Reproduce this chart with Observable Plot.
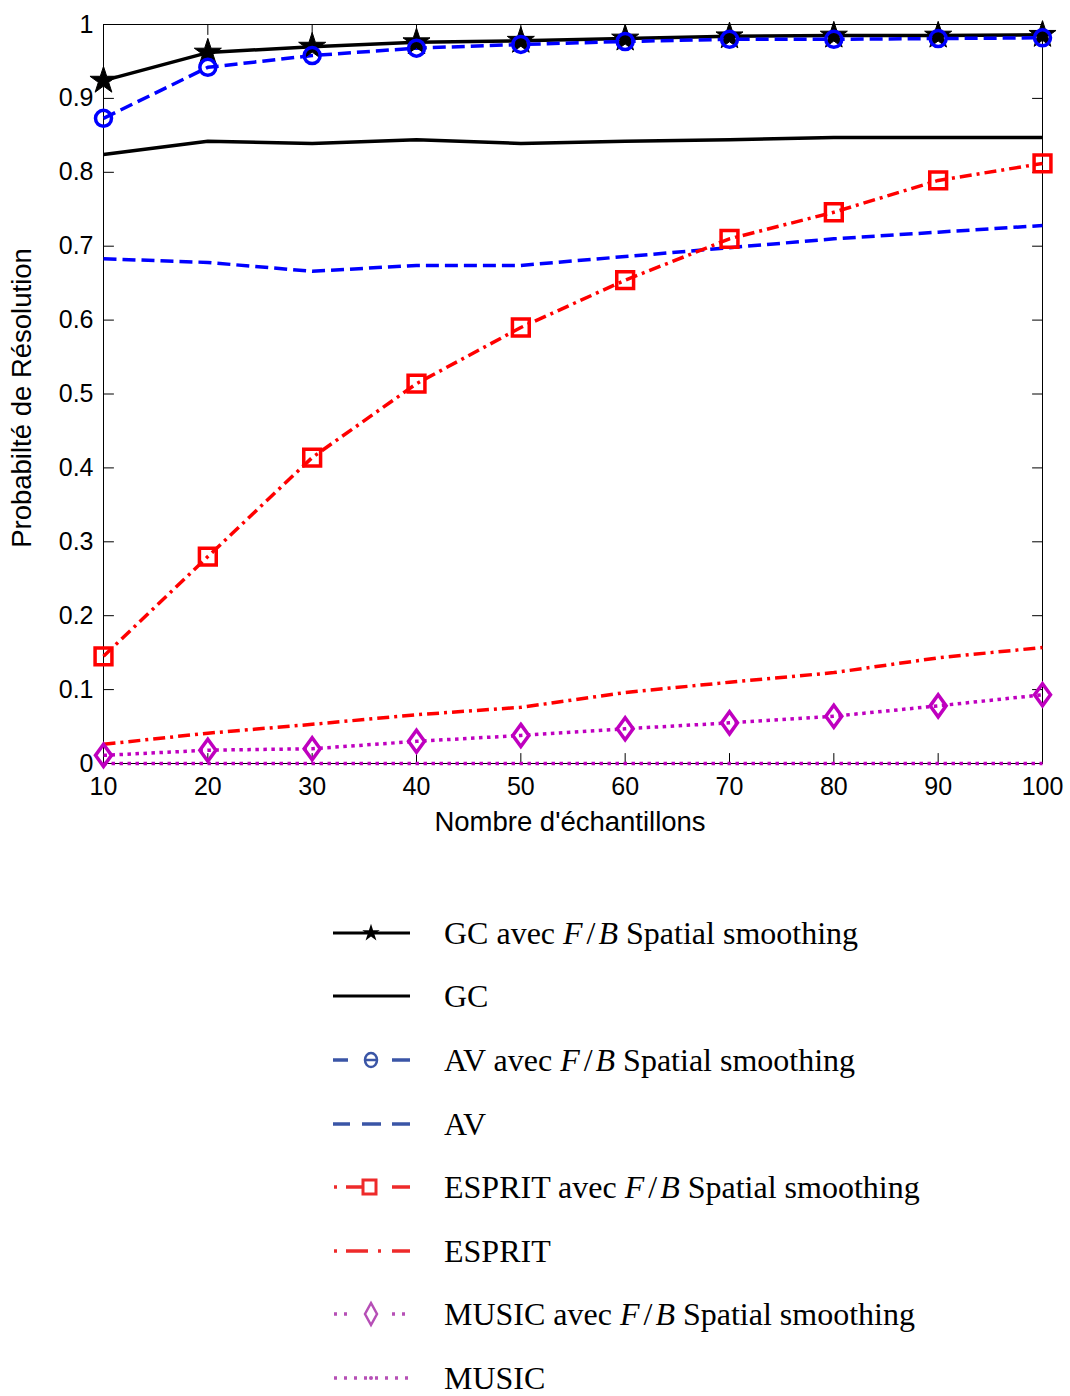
<!DOCTYPE html>
<html><head><meta charset="utf-8">
<script src="https://cdn.jsdelivr.net/npm/d3@7"></script>
<script src="https://cdn.jsdelivr.net/npm/@observablehq/plot@0.6"></script>
<style>
body{margin:0;background:#fff;}
#chart{width:1070px;}
#legend{width:1070px;padding-top:51px;}
.row{height:63.6px;display:flex;align-items:center;font-family:"Liberation Serif","Times New Roman",serif;font-size:32px;line-height:1;color:#000;}
.row svg{margin-left:333px;margin-right:34px;flex:none;}
.fb{font-style:italic;}
.sl{margin:0 3px 0 4px;}
</style></head><body>
<div id="chart"></div>
<div id="legend"></div>
<script>
// ---- data ----
const samples = [10, 20, 30, 40, 50, 60, 70, 80, 90, 100];
const gcFB     = [0.924, 0.962, 0.970, 0.976, 0.978, 0.981, 0.984, 0.985, 0.985, 0.986];
const gc       = [0.824, 0.842, 0.839, 0.844, 0.839, 0.842, 0.844, 0.847, 0.847, 0.847];
const avFB     = [0.873, 0.942, 0.958, 0.968, 0.973, 0.977, 0.980, 0.980, 0.981, 0.982];
const av       = [0.683, 0.678, 0.666, 0.674, 0.674, 0.686, 0.698, 0.710, 0.719, 0.728];
const espritFB = [0.145, 0.280, 0.414, 0.514, 0.590, 0.654, 0.710, 0.746, 0.789, 0.812];
const esprit   = [0.026, 0.041, 0.053, 0.066, 0.076, 0.096, 0.110, 0.123, 0.143, 0.157];
const musicFB  = [0.011, 0.018, 0.020, 0.030, 0.038, 0.047, 0.055, 0.064, 0.078, 0.093];
const music    = [0, 0, 0, 0, 0, 0, 0, 0, 0, 0];

const xTicks = [10, 20, 30, 40, 50, 60, 70, 80, 90, 100];
const yTicks = [0, 0.1, 0.2, 0.3, 0.4, 0.5, 0.6, 0.7, 0.8, 0.9, 1];
const yTickLabels = ["0", "0.1", "0.2", "0.3", "0.4", "0.5", "0.6", "0.7", "0.8", "0.9", "1"];
const xLabel = "Nombre d'échantillons";
const yLabel = "Probabilté de Résolution";
const legendLabels = [
  "GC avec F/B Spatial smoothing", "GC",
  "AV avec F/B Spatial smoothing", "AV",
  "ESPRIT avec F/B Spatial smoothing", "ESPRIT",
  "MUSIC avec F/B Spatial smoothing", "MUSIC"
];

// ---- helpers ----
const series = vals => samples.map((x, i) => ({x, y: vals[i]}));
const tickShape = {draw(ctx, l) { ctx.moveTo(0, 0); ctx.lineTo(0, -l); }};
const diamondSym = {draw(ctx, size) {
  const r = Math.sqrt(size / Math.PI);
  const h = r * 1.38, w = r * 1.0;
  ctx.moveTo(0, -h); ctx.lineTo(w, 0); ctx.lineTo(0, h); ctx.lineTo(-w, 0); ctx.closePath();
}};
const BLUE = "#0000ff", RED = "#ff0000", MAG = "#bf00bf";
const SW = 3.5;
const lineOpts = (stroke, dash) => ({x: "x", y: "y", stroke, strokeWidth: SW, strokeDasharray: dash, strokeLinecap: "butt", strokeLinejoin: "round"});

const plot = Plot.plot({
  width: 1070, height: 850,
  marginLeft: 103, marginRight: 28, marginTop: 24, marginBottom: 87,
  x: {domain: [10, 100]},
  y: {domain: [0, 1]},
  style: {fontFamily: "'Liberation Sans', Arial, sans-serif", fontSize: "25px", color: "black", background: "white"},
  marks: [
    Plot.frame({stroke: "black", strokeWidth: 1}),
    Plot.vector(xTicks, {x: d => d, y: 0, length: 10, rotate: 0, anchor: "start", shape: tickShape, stroke: "black", strokeWidth: 1}),
    Plot.vector(xTicks, {x: d => d, y: 1, length: 10, rotate: 180, anchor: "start", shape: tickShape, stroke: "black", strokeWidth: 1}),
    Plot.vector(yTicks, {x: 10, y: d => d, length: 10, rotate: 90, anchor: "start", shape: tickShape, stroke: "black", strokeWidth: 1}),
    Plot.vector(yTicks, {x: 100, y: d => d, length: 10, rotate: -90, anchor: "start", shape: tickShape, stroke: "black", strokeWidth: 1}),
    Plot.axisX(xTicks, {tickSize: 0, tickPadding: 14, label: null, fontSize: 25}),
    Plot.axisY(yTicks, {tickSize: 0, tickPadding: 10, label: null, fontSize: 25, tickFormat: (d, i) => yTickLabels[i]}),
    Plot.line(series(gcFB), lineOpts("black", null)),
    Plot.line(series(gc), lineOpts("black", null)),
    Plot.line(series(avFB), lineOpts(BLUE, "13,6")),
    Plot.line(series(av), lineOpts(BLUE, "13,6")),
    Plot.line(series(espritFB), lineOpts(RED, "12,5,3,5")),
    Plot.line(series(esprit), lineOpts(RED, "12,5,3,5")),
    Plot.line(series(musicFB), lineOpts(MAG, "3.5,4.5")),
    Plot.line(series(music), lineOpts(MAG, "3.5,4.5")),
    Plot.dot(series(gcFB), {x: "x", y: "y", symbol: "star", r: 8.5, fill: "black", stroke: "black", strokeWidth: 1}),
    Plot.dot(series(avFB), {x: "x", y: "y", symbol: "circle", r: 8, fill: "none", stroke: BLUE, strokeWidth: SW}),
    Plot.dot(series(espritFB), {x: "x", y: "y", symbol: "square", r: 9.5, fill: "none", stroke: RED, strokeWidth: SW}),
    Plot.dot(series(musicFB), {x: "x", y: "y", symbol: diamondSym, r: 8, fill: "none", stroke: MAG, strokeWidth: SW}),
    Plot.text([xLabel], {frameAnchor: "bottom", dy: 59, text: d => d, fontSize: 27.5, lineAnchor: "middle", textAnchor: "middle", dx: -3}),
    Plot.text([yLabel], {frameAnchor: "left", dx: -81, dy: 4, rotate: -90, text: d => d, fontSize: 27.5, lineAnchor: "middle", textAnchor: "middle"})
  ]
});
document.getElementById("chart").appendChild(plot);

// ---- legend ----
const LB = "#3a55a6", LR = "#ee2a2a", LM = "#b64fb6";
const star = d3.symbol(d3.symbolStar, 95)();
const seg = (x1, x2, c, w = 3.5) => `<line x1="${x1}" x2="${x2}" y1="15" y2="15" stroke="${c}" stroke-width="${w}"/>`;
const samplesSvg = [
  seg(0, 77, "#000", 3) + `<path d="${star}" transform="translate(38,15)" fill="#000"/>`,
  seg(0, 77, "#000", 3),
  seg(0, 15, LB) + `<ellipse cx="38" cy="15" rx="6" ry="7" fill="none" stroke="${LB}" stroke-width="2.5"/><line x1="32" x2="44" y1="15" y2="15" stroke="${LB}" stroke-width="2.5"/>` + seg(59, 77, LB),
  seg(0, 17, LB) + seg(29, 48, LB) + seg(59, 77, LB),
  seg(1, 4, LR) + seg(13, 30, LR) + `<rect x="30" y="8" width="13" height="14" fill="none" stroke="${LR}" stroke-width="3"/>` + seg(59, 77, LR),
  seg(1, 4, LR) + seg(13, 35, LR) + seg(45, 48, LR) + seg(59, 77, LR),
  seg(1, 4, LM) + seg(11, 14, LM) + `<path d="M38,4L44,15L38,26L32,15Z" fill="none" stroke="${LM}" stroke-width="2.5"/>` + seg(59, 62, LM) + seg(69, 72, LM),
  seg(1, 4, LM) + seg(11, 14, LM) + seg(21, 24, LM) + seg(31, 34, LM) + `<circle cx="38" cy="15" r="2" fill="${LM}"/>` + seg(42, 45, LM) + seg(52, 55, LM) + seg(62, 65, LM) + seg(72, 75, LM)
];
const fmt = s => s.replace("F/B", '<span class="fb">F</span><span class="sl">/</span><span class="fb">B</span>');
const rows = d3.select("#legend").selectAll("div").data(legendLabels).join("div").attr("class", "row");
rows.append("svg").attr("width", 77).attr("height", 30).html((d, i) => samplesSvg[i]);
rows.append("span").html(d => fmt(d));
</script>
</body></html>
